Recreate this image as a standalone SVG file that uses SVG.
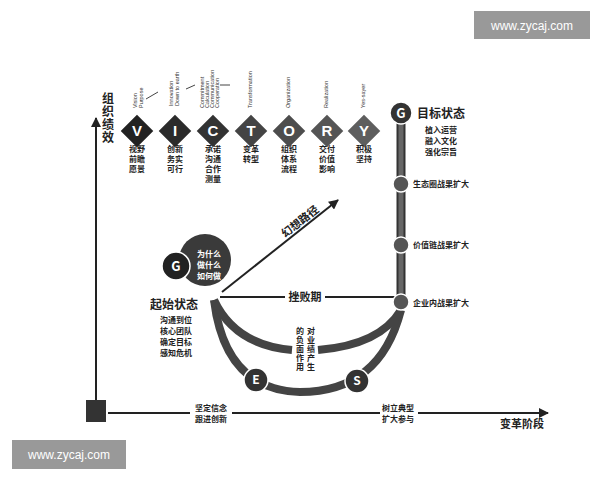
<svg xmlns="http://www.w3.org/2000/svg" width="600" height="480" viewBox="0 0 600 480">
<defs>
<style>
text{font-family:"Noto Sans CJK SC","Noto Sans",sans-serif;fill:#222}
.s{font-size:8px;font-weight:bold}
.en{font-size:5.5px;fill:#333;font-family:"Liberation Sans",sans-serif}
.d{stroke:#fff;stroke-width:1}
.L{font-size:15px;font-weight:bold;fill:#fff;text-anchor:middle;font-family:"Liberation Sans",sans-serif}
.c{text-anchor:middle}
.v{writing-mode:vertical-rl;letter-spacing:1px}
.dot{fill:#555;stroke:#fff;stroke-width:1.5}
</style>
<marker id="ar" viewBox="0 0 10 10" refX="9" refY="5" markerWidth="5" markerHeight="5" orient="auto"><path d="M0,0L10,5L0,10z" fill="#222"/></marker>
</defs>
<rect width="600" height="480" fill="#fff"/>
<g id="watermarks">
<rect x="474" y="11" width="116" height="28" fill="#999"/><text x="532" y="30" class="c" style="font-size:12px;fill:#fff;font-family:'Liberation Sans',sans-serif">www.zycaj.com</text>
<rect x="12" y="440" width="114" height="29" fill="#999"/><text x="69" y="459" class="c" style="font-size:12px;fill:#fff;font-family:'Liberation Sans',sans-serif">www.zycaj.com</text>
</g>
<g id="connectors" fill="none">
<line x1="96" y1="400" x2="96" y2="118" stroke="#222" stroke-width="2" marker-end="url(#ar)"/>
<line x1="108" y1="413" x2="190" y2="413" stroke="#222" stroke-width="2"/>
<line x1="232" y1="413" x2="380" y2="413" stroke="#222" stroke-width="2"/>
<line x1="418" y1="413" x2="548" y2="413" stroke="#222" stroke-width="2" marker-end="url(#ar)"/>
<line x1="401" y1="115" x2="401" y2="305" stroke="#333" stroke-width="9"/>
<line x1="401" y1="115" x2="401" y2="305" stroke="#666" stroke-width="5"/>
<path d="M214,300 Q225,390 300,392 Q380,392 401,310" stroke="#444" stroke-width="8"/>
<path d="M214,300 Q235,345 292,350" stroke="#444" stroke-width="8"/>
<path d="M318,350 Q380,345 401,310" stroke="#444" stroke-width="8"/>
<line x1="220" y1="297" x2="285" y2="297" stroke="#222" stroke-width="2"/>
<line x1="325" y1="297" x2="395" y2="297" stroke="#222" stroke-width="2"/>
<line x1="222" y1="292" x2="338" y2="200" stroke="#222" stroke-width="2" marker-end="url(#ar)"/>
<path d="M146,99 L158,92 M186,89 L195,85 M220,85 L230,85" stroke="#444" stroke-width="1"/>
</g>
<g id="axes-labels">
<rect x="86" y="400" width="20" height="22" fill="#333"/>
<text class="s v" style="font-size:12px" x="108" y="92">组织绩效</text>
<text class="s" style="font-size:11px" x="500" y="428">变革阶段</text>
<text class="s c" x="211" y="411">坚定信念</text><text class="s c" x="211" y="422">跟进创新</text>
<text class="s c" x="398" y="411">树立典型</text><text class="s c" x="398" y="422">扩大参与</text>
</g>
<g id="victory">
<g id="v"><rect x="125" y="119" width="24" height="24" transform="rotate(45 137 131)" fill="#222" class="d"/><text class="L" x="137" y="136">V</text>
<text class="s" x="129" y="152">视野</text><text class="s" x="129" y="162">前瞻</text><text class="s" x="129" y="172">愿景</text>
<text class="en" transform="translate(137,108) rotate(-90)">Vision</text><text class="en" transform="translate(143,108) rotate(-90)">Purpose</text></g>
<g id="i"><rect x="163" y="119" width="24" height="24" transform="rotate(45 175 131)" fill="#2b2b2b" class="d"/><text class="L" x="175" y="136">I</text>
<text class="s" x="167" y="152">创新</text><text class="s" x="167" y="162">务实</text><text class="s" x="167" y="172">可行</text>
<text class="en" transform="translate(173,106) rotate(-90)">Innovation</text><text class="en" transform="translate(179,106) rotate(-90)">Down to earth</text></g>
<g id="c"><rect x="201" y="119" width="24" height="24" transform="rotate(45 213 131)" fill="#333" class="d"/><text class="L" x="213" y="136">C</text>
<text class="s" x="205" y="152">承诺</text><text class="s" x="205" y="162">沟通</text><text class="s" x="205" y="172">合作</text><text class="s" x="205" y="182">测量</text>
<text class="en" transform="translate(204,108) rotate(-90)">Commitment</text><text class="en" transform="translate(209,108) rotate(-90)">Calculation</text><text class="en" transform="translate(214,108) rotate(-90)">Communication</text><text class="en" transform="translate(219,108) rotate(-90)">Cooperation</text></g>
<g id="t"><rect x="239" y="119" width="24" height="24" transform="rotate(45 251 131)" fill="#444" class="d"/><text class="L" x="251" y="136">T</text>
<text class="s" x="243" y="152">变革</text><text class="s" x="243" y="162">转型</text>
<text class="en" transform="translate(252,108) rotate(-90)">Transformation</text></g>
<g id="o"><rect x="277" y="119" width="24" height="24" transform="rotate(45 289 131)" fill="#4d4d4d" class="d"/><text class="L" x="289" y="136">O</text>
<text class="s" x="281" y="152">组织</text><text class="s" x="281" y="162">体系</text><text class="s" x="281" y="172">流程</text>
<text class="en" transform="translate(290,108) rotate(-90)">Organization</text></g>
<g id="r"><rect x="315" y="119" width="24" height="24" transform="rotate(45 327 131)" fill="#555" class="d"/><text class="L" x="327" y="136">R</text>
<text class="s" x="319" y="152">交付</text><text class="s" x="319" y="162">价值</text><text class="s" x="319" y="172">影响</text>
<text class="en" transform="translate(328,108) rotate(-90)">Realization</text></g>
<g id="y"><rect x="352" y="119" width="24" height="24" transform="rotate(45 364 131)" fill="#5e5e5e" class="d"/><text class="L" x="364" y="136">Y</text>
<text class="s" x="356" y="152">积极</text><text class="s" x="356" y="162">坚持</text>
<text class="en" transform="translate(365,108) rotate(-90)">Yes-sayer</text></g>
</g>
<g id="goal">
<circle cx="401" cy="113" r="11" fill="#333" stroke="#fff" stroke-width="1.5"/><text class="c" style="font-size:13px;font-weight:bold;fill:#fff" x="401" y="118">G</text>
<text class="s" style="font-size:12px" x="417" y="118">目标状态</text>
<text class="s" x="425" y="133">植入运营</text><text class="s" x="425" y="144">融入文化</text><text class="s" x="425" y="155">强化宗旨</text>
</g>
<g id="milestones">
<circle class="dot" cx="401" cy="184" r="8"/><text class="s" x="413" y="187">生态圈战果扩大</text>
<circle class="dot" cx="401" cy="245" r="8"/><text class="s" x="413" y="248">价值链战果扩大</text>
<circle class="dot" cx="401" cy="302" r="8"/><text class="s" x="413" y="306">企业内战果扩大</text>
</g>
<g id="start">
<circle cx="205" cy="260" r="26" fill="#3a3a3a"/>
<circle cx="176" cy="266" r="14" fill="#222" stroke="#fff" stroke-width="1.5"/><text class="c" style="font-size:13px;font-weight:bold;fill:#fff" x="176" y="271">G</text>
<text class="s c" style="fill:#fff" x="209" y="257">为什么</text><text class="s c" style="fill:#fff" x="209" y="268">做什么</text><text class="s c" style="fill:#fff" x="209" y="279">如何做</text>
<text class="s" style="font-size:12px" x="150" y="309">起始状态</text>
<text class="s" x="160" y="323">沟通到位</text><text class="s" x="160" y="334">核心团队</text><text class="s" x="160" y="345">确定目标</text><text class="s" x="160" y="356">感知危机</text>
</g>
<g id="path-labels">
<text class="s" style="font-size:11px" transform="translate(285,238) rotate(-38)">幻想路径</text>
<text class="s c" style="font-size:11px" x="305" y="301">挫败期</text>
<text class="s v" x="311" y="327">对业绩产生</text>
<text class="s v" x="300" y="327">的负面作用</text>
</g>
<g id="es">
<circle cx="256" cy="380" r="12" fill="#333" stroke="#fff" stroke-width="1.5"/><text class="c" style="font-size:12px;font-weight:bold;fill:#fff" x="256" y="384">E</text>
<circle cx="357" cy="381" r="12" fill="#333" stroke="#fff" stroke-width="1.5"/><text class="c" style="font-size:12px;font-weight:bold;fill:#fff" x="357" y="385">S</text>
</g>
</svg>
